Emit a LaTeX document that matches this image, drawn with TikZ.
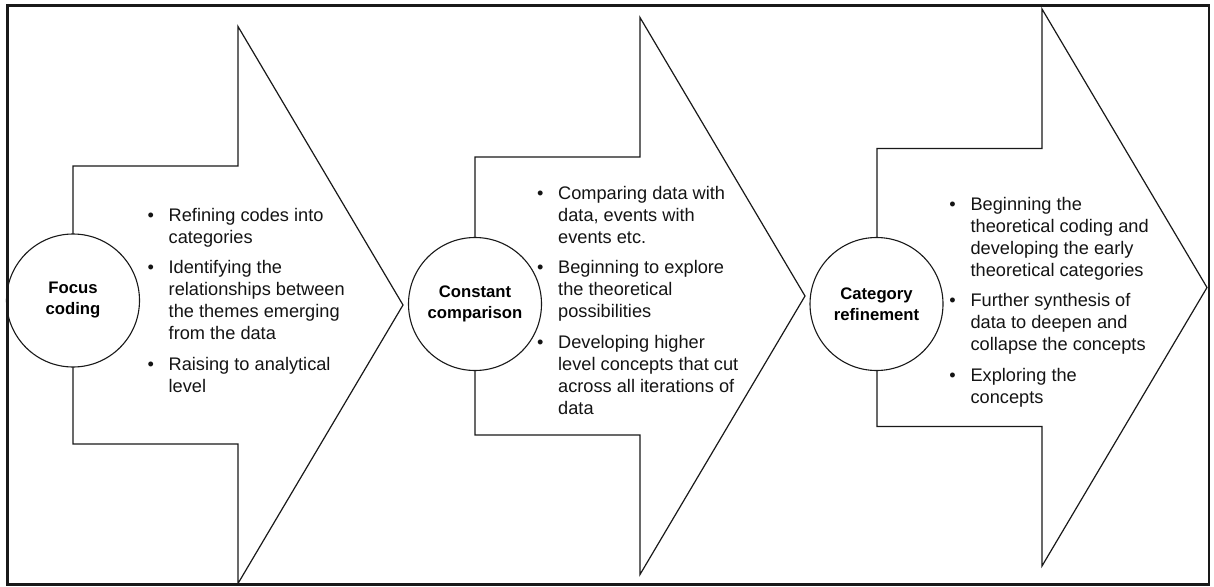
\documentclass[tikz,border=0pt]{standalone}
\usepackage{fontspec}
\setmainfont{Liberation Sans}
\usepackage{array}
\begin{document}
\begin{tikzpicture}[x=1pt,y=-1pt,
  outline/.style={draw=black!90, line width=1.2pt, fill=white, line join=miter},
  stage/.style={circle, draw=black!90, line width=1.1pt, fill=white,
    minimum size=133pt, inner sep=0pt, align=center,
    font=\fontsize{16.7}{21}\selectfont\bfseries},
  notes/.style={anchor=base west, inner sep=0pt, text=black!92,
    font=\fontsize{18.2}{22}\selectfont},
  pics/chevron/.style={code={
    \draw[outline] (0,-139) -- (165,-139) -- (165,-278.5) -- (330,0)
      -- (165,278.5) -- (165,139) -- (0,139) -- cycle;}}
]
\useasboundingbox (0,0) rectangle (1214,586);

% three block arrows, one per stage
\pic at (73,305) {chevron};
\pic at (475,296) {chevron};
\pic at (877,287.5) {chevron};

% stage circles sitting on the tail of each arrow
\node[stage] (focus) at (73,300.5) {Focus\\coding};
\node[stage] (compare) at (475,304) {Constant\\comparison};
\node[stage] (refine) at (876.5,304) {Category\\refinement};

% bullet notes inside each arrow
\node[notes] (focusnotes) at (147.3,221) {%
\begin{tabular}[t]{@{}p{21.2pt}@{}l@{}}
\textbullet & Refining codes into\\
            & categories\\[8.5pt]
\textbullet & Identifying the\\
            & relationships between\\
            & the themes emerging\\
            & from the data\\[8.5pt]
\textbullet & Raising to analytical\\
            & level
\end{tabular}};

\node[notes] (comparenotes) at (536.8,199) {%
\begin{tabular}[t]{@{}p{21.2pt}@{}l@{}}
\textbullet & Comparing data with\\
            & data, events with\\
            & events etc.\\[8.5pt]
\textbullet & Beginning to explore\\
            & the theoretical\\
            & possibilities\\[8.5pt]
\textbullet & Developing higher\\
            & level concepts that cut\\
            & across all iterations of\\
            & data
\end{tabular}};

\node[notes] (refinenotes) at (949.2,210) {%
\begin{tabular}[t]{@{}p{21.2pt}@{}l@{}}
\textbullet & Beginning the\\
            & theoretical coding and\\
            & developing the early\\
            & theoretical categories\\[8.5pt]
\textbullet & Further synthesis of\\
            & data to deepen and\\
            & collapse the concepts\\[8.5pt]
\textbullet & Exploring the\\
            & concepts
\end{tabular}};

% outer frame
\draw[line width=2.6pt, black!90] (7.5,5.5) rectangle (1209,584.5);
\end{tikzpicture}
\end{document}
